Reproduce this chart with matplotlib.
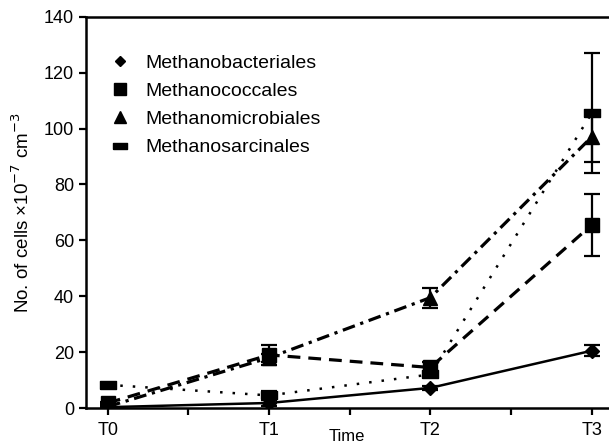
import matplotlib
matplotlib.use("Agg")
import matplotlib.pyplot as plt
from matplotlib.lines import Line2D

plt.rcParams['font.family'] = ['Liberation Sans', 'DejaVu Sans']

times = [0, 1, 2, 3]
tick_labels = ['T0', 'T1', 'T2', 'T3']

bacteriales = [0.3, 1.8, 7.2, 20.5]
bacteriales_err = [0.3, 1.0, 0.8, 2.0]
coccales = [1.8, 19.0, 14.5, 65.5]
coccales_err = [0.5, 3.5, 2.0, 11.0]
microbiales = [0.5, 18.0, 39.5, 97.0]
microbiales_err = [0.3, 1.5, 3.6, 9.0]
sarcinales = [8.3, 4.5, 12.0, 105.5]
sarcinales_err = [0.5, 1.5, 1.0, 21.5]

names = ['Methanobacteriales', 'Methanococcales', 'Methanomicrobiales', 'Methanosarcinales']

# flat bar marker for Methanosarcinales
bar = [(-1, -0.45), (1, -0.45), (1, 0.45), (-1, 0.45), (-1, -0.45)]

series = [
    (bacteriales, bacteriales_err, 'D', 7, '-', 1.8),
    (coccales, coccales_err, 's', 10, (0, (4, 2.5)), 2.3),
    (microbiales, microbiales_err, '^', 10, (0, (4, 1.8, 1, 1.8)), 2.3),
    (sarcinales, sarcinales_err, bar, 12, (0, (1, 4)), 1.8),
]

fig = plt.figure(figsize=(6.09, 4.43), dpi=100)
ax = fig.add_axes([0.141, 0.079, 0.857, 0.883])

handles = []
for (vals, err, mk, ms, ls, lw), name in zip(series, names):
    ax.errorbar(times, vals, yerr=err, fmt='none', ecolor='black', capsize=6,
                elinewidth=1.6, capthick=1.6)
    ax.plot(times, vals, color='black', linestyle=ls, linewidth=lw,
            marker=mk, markersize=ms)
    handles.append(Line2D([], [], color='black', linestyle='none', marker=mk,
                          markersize=ms * 0.8, label=name))

ax.set_xlim(-0.136, 3.1)
ax.set_ylim(0, 140)
ax.set_xticks(times)
ax.set_xticklabels(tick_labels)
ax.set_xticks([0.5, 1.5, 2.5], minor=True)
ax.set_yticks(range(0, 141, 20))
ax.tick_params(axis='both', labelsize=13, width=1.6, length=5)
ax.tick_params(axis='x', which='minor', width=1.6, length=5)
ax.tick_params(axis='x', pad=5)
for s in ['left', 'bottom', 'top']:
    ax.spines[s].set_linewidth(1.8)
ax.spines['right'].set_visible(False)

ax.set_xlabel('Time', fontsize=12, labelpad=-7)
ax.set_ylabel('No. of cells \u00d710$^{-7}$ cm$^{-3}$', fontsize=13.5, labelpad=8)

ax.legend(handles=handles, loc='upper left', bbox_to_anchor=(0.035, 0.925),
          frameon=False, fontsize=14, handlelength=0.8, handletextpad=0.9,
          labelspacing=0.55, borderaxespad=0)

fig.savefig('out.png', dpi=100)
